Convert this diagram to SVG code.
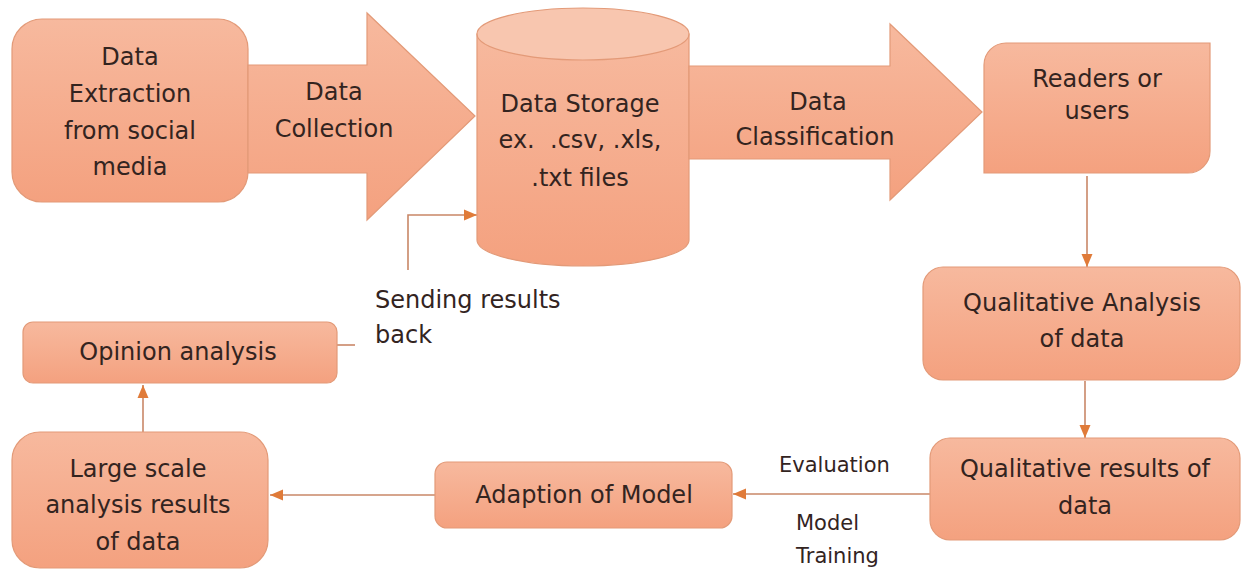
<svg xmlns="http://www.w3.org/2000/svg" width="1244" height="571" viewBox="0 0 1244 571">
<style>
.shape{fill:url(#g);stroke:#E39A78;stroke-width:1.2}
.t{font-family:"DejaVu Sans","Liberation Sans",sans-serif;font-size:24px;fill:#33241F;text-anchor:middle}
.s{font-family:"DejaVu Sans","Liberation Sans",sans-serif;font-size:21px;fill:#33241F}
.c{fill:none;stroke:#C98767;stroke-width:1.6}
</style>
<defs>
<linearGradient id="g" x1="0" y1="0" x2="0" y2="1">
<stop offset="0" stop-color="#F7B99E"/>
<stop offset="1" stop-color="#F4A17F"/>
</linearGradient>
<marker id="ah" markerUnits="userSpaceOnUse" markerWidth="13" markerHeight="12" viewBox="0 0 13 12" refX="13" refY="6" orient="auto">
<path d="M0,0.5 L13,6 L0,11.5 Z" fill="#E07B39"/>
</marker>
</defs>
<rect width="1244" height="571" fill="#FFFFFF"/>

<g id="connectors">
<polyline class="c" points="408,270 408,215 477,215" marker-end="url(#ah)"/>
<line class="c" x1="1087" y1="176" x2="1087" y2="267" marker-end="url(#ah)"/>
<line class="c" x1="1085" y1="381" x2="1085" y2="438" marker-end="url(#ah)"/>
<line class="c" x1="930" y1="494" x2="733" y2="494" marker-end="url(#ah)"/>
<line class="c" x1="435" y1="495" x2="270" y2="495" marker-end="url(#ah)"/>
<line class="c" x1="143" y1="432" x2="143" y2="385" marker-end="url(#ah)"/>
<line class="c" x1="337" y1="345" x2="355" y2="345"/>
</g>

<g id="data-extraction">
<rect class="shape" x="12" y="19" width="236" height="183" rx="30"/>
<text class="t" x="130" y="65">Data</text>
<text class="t" x="130" y="102">Extraction</text>
<text class="t" x="130" y="139">from social</text>
<text class="t" x="130" y="175">media</text>
</g>

<g id="data-collection">
<polygon class="shape" points="248,65 367,65 367,13 475,116 367,220 367,173 248,173"/>
<text class="t" x="334" y="100">Data</text>
<text class="t" x="334" y="137">Collection</text>
</g>

<g id="data-storage">
<path class="shape" d="M477,34 L477,240 A106,26 0 0 0 689,240 L689,34 Z"/>
<ellipse cx="583" cy="34" rx="106" ry="26" fill="#F8C6AF" stroke="#E39A78" stroke-width="1.2"/>
<text class="t" x="580" y="112">Data Storage</text>
<text class="t" x="580" y="148" xml:space="preserve">ex.  .csv, .xls,</text>
<text class="t" x="580" y="186">.txt files</text>
</g>

<g id="data-classification">
<polygon class="shape" points="689,66 890,66 890,24 982,112 890,200 890,159 689,159"/>
<text class="t" x="818" y="110">Data</text>
<text class="t" x="815" y="145">Classification</text>
</g>

<g id="readers">
<path class="shape" d="M1006,43 H1210 V151 A22,22 0 0 1 1188,173 H984 V65 A22,22 0 0 1 1006,43 Z"/>
<text class="t" x="1097" y="87">Readers or</text>
<text class="t" x="1097" y="119">users</text>
</g>

<g id="qualitative-analysis">
<rect class="shape" x="923" y="267" width="317" height="113" rx="20"/>
<text class="t" x="1082" y="311">Qualitative Analysis</text>
<text class="t" x="1082" y="347">of data</text>
</g>

<g id="qualitative-results">
<rect class="shape" x="930" y="438" width="310" height="102" rx="20"/>
<text class="t" x="1085" y="477">Qualitative results of</text>
<text class="t" x="1085" y="514">data</text>
</g>

<g id="adaption">
<rect class="shape" x="435" y="462" width="297" height="66" rx="12"/>
<text class="t" x="584" y="503">Adaption of Model</text>
</g>

<g id="edge-labels">
<text class="s" x="779" y="472">Evaluation</text>
<text class="s" x="796" y="530">Model</text>
<text class="s" x="796" y="563">Training</text>
<text class="t" x="375" y="308" style="text-anchor:start">Sending results</text>
<text class="t" x="375" y="343" style="text-anchor:start">back</text>
</g>

<g id="large-scale">
<rect class="shape" x="12" y="432" width="256" height="136" rx="28"/>
<text class="t" x="138" y="477">Large scale</text>
<text class="t" x="138" y="513">analysis results</text>
<text class="t" x="138" y="550">of data</text>
</g>

<g id="opinion-analysis">
<rect class="shape" x="23" y="322" width="314" height="61" rx="10"/>
<text class="t" x="178" y="360">Opinion analysis</text>
</g>
</svg>
